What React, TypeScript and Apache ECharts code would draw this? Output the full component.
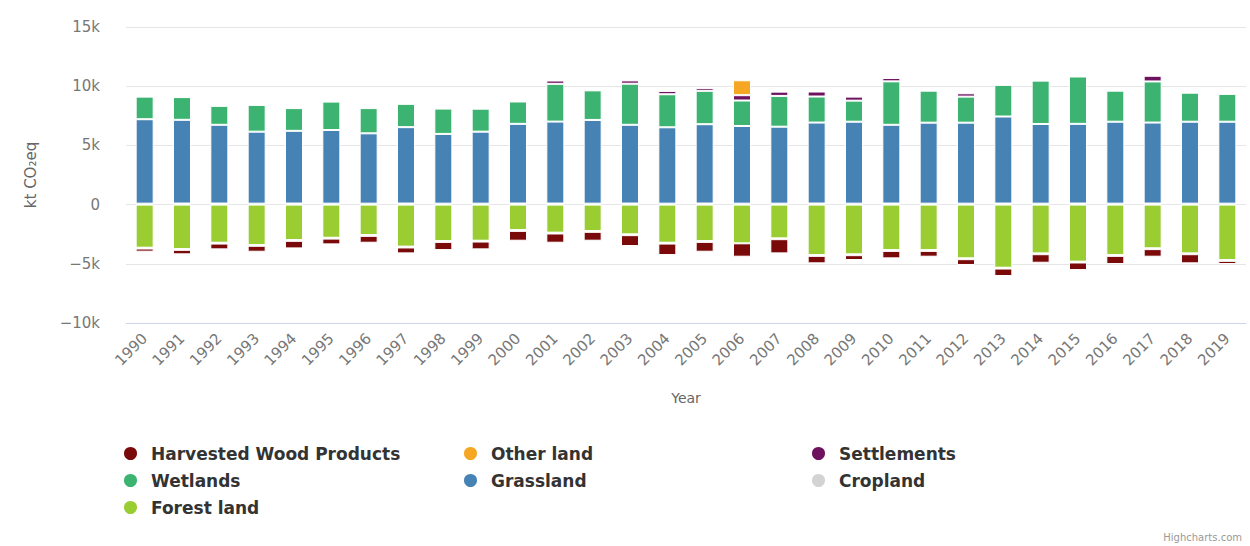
import React, { useEffect, useRef } from "react";
import * as echarts from "echarts";

const years = [
  "1990", "1991", "1992", "1993", "1994", "1995", "1996", "1997", "1998", "1999",
  "2000", "2001", "2002", "2003", "2004", "2005", "2006", "2007", "2008", "2009",
  "2010", "2011", "2012", "2013", "2014", "2015", "2016", "2017", "2018", "2019",
];

const forestLand = [
  -3640, -3750, -3220, -3410, -2990, -2800, -2570, -3550, -3080, -3050,
  -2150, -2370, -2230, -2510, -3220, -3080, -3270, -2850, -4260, -4200,
  -3840, -3840, -4540, -5330, -4120, -4820, -4260, -3690, -4120, -4680,
];
const cropland = [
  80, 90, 90, 80, 90, 80, 80, 90, 80, 80,
  90, 90, 80, 90, 80, 90, 80, 80, 90, 80,
  90, 80, 80, 90, 80, 90, 80, 90, 80, 80,
];
const grassland = [
  7130, 7070, 6650, 6080, 6140, 6220, 5940, 6450, 5890, 6080,
  6730, 6920, 7070, 6650, 6450, 6700, 6560, 6500, 6840, 6920,
  6650, 6840, 6840, 7350, 6730, 6730, 6920, 6840, 6920, 6920,
];
const wetlands = [
  1910, 1920, 1600, 2260, 1920, 2400, 2130, 1970, 2140, 1940,
  1890, 3190, 2500, 3470, 2790, 2820, 2150, 2600, 2200, 1780,
  3670, 2700, 2200, 2670, 3660, 4000, 2620, 3470, 2450, 2350,
];
const settlements = [
  50, 50, 60, 50, 60, 50, 80, 60, 90, 90,
  60, 280, 90, 280, 280, 230, 450, 360, 420, 340,
  280, 60, 280, 60, 60, 60, 60, 480, 60, 60,
];
const otherLand = [
  -70, -70, -70, -70, -70, -70, -70, -70, -70, -70,
  -70, -70, -70, -70, -70, -70, 1260, -70, -70, -70,
  -70, -70, -70, -70, -70, -70, -70, -70, -70, -70,
];
const harvestedWood = [
  -265, -380, -490, -500, -640, -490, -580, -500, -690, -660,
  -830, -780, -750, -920, -970, -830, -1130, -1200, -630, -410,
  -630, -490, -490, -630, -720, -640, -690, -640, -770, -270,
];

const yTicks = [-10000, -5000, 0, 5000, 10000, 15000];

const seriesDefs = [
  { name: "Forest land", data: forestLand, color: "#9acd32" },
  { name: "Cropland", data: cropland, color: "#d3d3d3" },
  { name: "Grassland", data: grassland, color: "#4682b4" },
  { name: "Wetlands", data: wetlands, color: "#3cb371" },
  { name: "Settlements", data: settlements, color: "#6e1260" },
  { name: "Other land", data: otherLand, color: "#f5a623" },
  { name: "Harvested Wood Products", data: harvestedWood, color: "#7a0a0a" },
];

const FONT = "'DejaVu Sans', Verdana, sans-serif";

export default function App() {
  const ref = useRef<HTMLDivElement>(null);

  useEffect(() => {
    if (!ref.current) return;
    const chart = echarts.init(ref.current, undefined, { renderer: "svg" });

    const legendCommon = {
      orient: "vertical" as const,
      top: 440,
      icon: "circle",
      itemWidth: 15,
      itemHeight: 15,
      itemGap: 10,
      selectedMode: false,
      textStyle: {
        fontFamily: FONT,
        fontSize: 17,
        fontWeight: "bold" as const,
        color: "#333",
        padding: [0, 0, 0, 8],
      },
    };

    chart.setOption({
      animation: false,
      textStyle: { fontFamily: FONT },
      grid: { left: 126, right: 4, top: 27, bottom: 223, containLabel: false },
      legend: [
        { ...legendCommon, left: 117, data: ["Harvested Wood Products", "Wetlands", "Forest land"] },
        { ...legendCommon, left: 457, data: ["Other land", "Grassland"] },
        { ...legendCommon, left: 805, data: ["Settlements", "Cropland"] },
      ],
      xAxis: {
        type: "category",
        data: years,
        name: "Year",
        nameLocation: "middle",
        nameGap: 68,
        nameTextStyle: { color: "#666", fontSize: 14, fontFamily: FONT },
        axisLine: { onZero: false, lineStyle: { color: "#ccd6eb", width: 1 } },
        axisTick: { show: false },
        axisLabel: {
          rotate: 45,
          interval: 0,
          color: "#777",
          fontSize: 15,
          fontFamily: FONT,
          margin: 13,
        },
      },
      yAxis: {
        type: "value",
        min: yTicks[0],
        max: yTicks[yTicks.length - 1],
        interval: 5000,
        name: "kt CO₂eq",
        nameLocation: "middle",
        nameGap: 88,
        nameTextStyle: { color: "#666", fontSize: 15, fontFamily: FONT },
        axisLine: { show: false },
        axisTick: { show: false },
        splitLine: { lineStyle: { color: "#e6e6e6", width: 1 } },
        axisLabel: {
          color: "#777",
          fontSize: 15,
          fontFamily: FONT,
          margin: 26,
          formatter: (v: number) =>
            v === 0 ? "0" : (v < 0 ? "−" : "") + Math.abs(v / 1000) + "k",
        },
      },
      series: seriesDefs.map((s) => ({
        name: s.name,
        type: "bar",
        stack: "total",
        barWidth: 18,
        data: s.data,
        itemStyle: { color: s.color, borderColor: "#ffffff", borderWidth: 1 },
        emphasis: { disabled: true },
      })),
      graphic: [
        {
          type: "text",
          right: 8,
          bottom: 4,
          style: {
            text: "Highcharts.com",
            fill: "#999",
            fontSize: 10,
            fontFamily: FONT,
          },
        },
      ],
    });

    return () => chart.dispose();
  }, []);

  return (
    <div
      ref={ref}
      style={{ position: "fixed", left: 0, top: 0, width: 1250, height: 546, background: "#fff" }}
    />
  );
}
